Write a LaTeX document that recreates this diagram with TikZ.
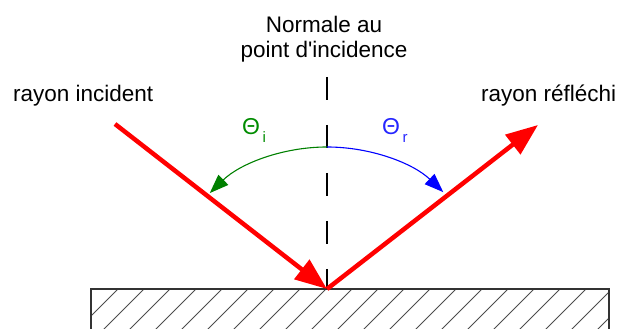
\documentclass[tikz,border=0pt]{standalone}
\usepackage{fontspec}
\setmainfont{Liberation Sans}
\usepackage{tikz}
\usetikzlibrary{arrows.meta}

\begin{document}
\begin{tikzpicture}[x=1pt,y=1pt,
    lbl/.style={font=\fontsize{22.5}{25}\selectfont,inner sep=0pt},
    ray/.style={red,line width=4.5pt,-{Triangle[length=32pt,width=24pt]}},
    angarc/.style={line width=1.1pt,-{Triangle[length=19pt,width=14pt]}},
    hatch/.style={line width=0.8pt,black!70}]
    \useasboundingbox (0,0) rectangle (619,329);
    \coordinate (hit) at (327,40);
    \coordinate (src) at (115,205);
    \coordinate (dst) at (538,204);
    \coordinate (ntop) at (327,252);
    \coordinate (atop) at (327,182);
    % surface
    \begin{scope}
      \clip (91,-20) rectangle (609,40);
      \foreach \k in {-1,...,22}
        \draw[hatch] (118+26*\k,40) -- ++(-70,-70);
    \end{scope}
    \draw[line width=1.2pt,black!80] (91,-20) |- (609,40) -- (609,-20);
    % normal
    \draw[line width=1.3pt,dash pattern=on 23pt off 25pt] (ntop) -- (hit);
    % angles
    \draw[angarc,green!50!black] (atop) arc[start angle=90,end angle=137.5,x radius=159,y radius=142];
    \draw[angarc,blue] (atop) arc[start angle=90,end angle=43,x radius=159,y radius=142];
    % rays
    \draw[ray] (src) -- (hit);
    \draw[ray] (hit) -- (dst);
    % labels
    \node[lbl,align=center,anchor=north] (nrm) at (324,313) {Normale au\\point d\textquotesingle incidence};
    \node[lbl,anchor=base west] (inc) at (13,227) {rayon incident};
    \node[lbl,anchor=base west] (refl) at (481,227) {rayon réfléchi};
    \node[lbl,anchor=base west,font=\fontsize{23}{25}\selectfont,text=green!55!black] (thi) at (242,194)
      {Θ\raisebox{-8pt}{\fontsize{15}{15}\selectfont\,i}};
    \node[lbl,anchor=base west,font=\fontsize{23}{25}\selectfont,text=blue!85!white] (thr) at (382,194)
      {Θ\raisebox{-8pt}{\fontsize{15}{15}\selectfont\,r}};
\end{tikzpicture}
\end{document}
